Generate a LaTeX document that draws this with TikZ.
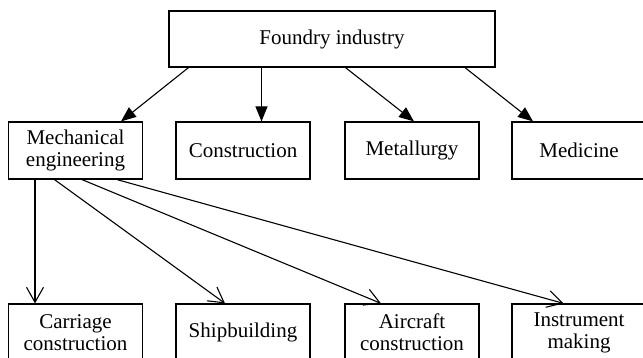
\documentclass[tikz,border=0pt]{standalone}
\usepackage{fontspec}
\setmainfont{Liberation Serif}
\usetikzlibrary{arrows.meta, positioning}

\begin{document}
\begin{tikzpicture}[x=1pt,y=-1pt]
        \tikzset{ box/.style ={draw=black, line width=1.2pt, minimum width=134pt, minimum height=57pt, inner sep=2pt, align=center, text=black, font=\fontsize{21}{22}\selectfont } }
        \tikzset{ topbox/.style ={box, minimum width=326pt, minimum height=56pt } }

        \tikzstyle{lnk}=[-{Triangle[length=15pt,width=12pt]}, line width=1.1pt]
        \tikzstyle{sub}=[-{Straight Barb[length=15pt,width=17pt]}, line width=1.1pt]

        \newcommand\cola{75.5}
        \newcommand\colb{243}
        \newcommand\colc{412}
        \newcommand\cold{579}
        \newcommand\rowb{150.5}
        \newcommand\rowc{332.5}

        \useasboundingbox (0,0) rectangle (643,358);

        \node[topbox] (foundry) at (332, 39) {Foundry industry};

        \node[box] (mech)   at (\cola, \rowb) {Mechanical\\engineering};
        \node[box] (constr) at (\colb, \rowb) {Construction};
        \node[box] (metal)  at (\colc, \rowb) {Metallurgy};
        \node[box] (med)    at (\cold, \rowb) {Medicine};

        \node[box] (carr)   at (\cola, \rowc) {Carriage\\construction};
        \node[box] (ship)   at (\colb, \rowc) {Shipbuilding};
        \node[box] (air)    at (\colc, \rowc) {Aircraft\\construction};
        \node[box] (instr)  at (\cold, \rowc) {Instrument\\making};

        \draw[lnk] ([xshift=-143.5pt]foundry.south) -- ([xshift=45.5pt]mech.north);
        \draw[lnk] ([xshift=-70.5pt]foundry.south) -- ([xshift=18.5pt]constr.north);
        \draw[lnk] ([xshift=13.5pt]foundry.south) -- ([xshift=2pt]metal.north);
        \draw[lnk] ([xshift=133pt]foundry.south) -- ([xshift=-46pt]med.north);

        \draw[sub] ([xshift=-40.5pt]mech.south) -- ([xshift=-40.5pt]carr.north);
        \draw[sub] ([xshift=-21pt]mech.south) -- ([xshift=-18pt]ship.north);
        \draw[sub] ([xshift=6.5pt]mech.south) -- ([xshift=-31pt]air.north);
        \draw[sub] ([xshift=41.5pt]mech.south) -- ([xshift=-15.5pt]instr.north);
      \end{tikzpicture}
\end{document}
